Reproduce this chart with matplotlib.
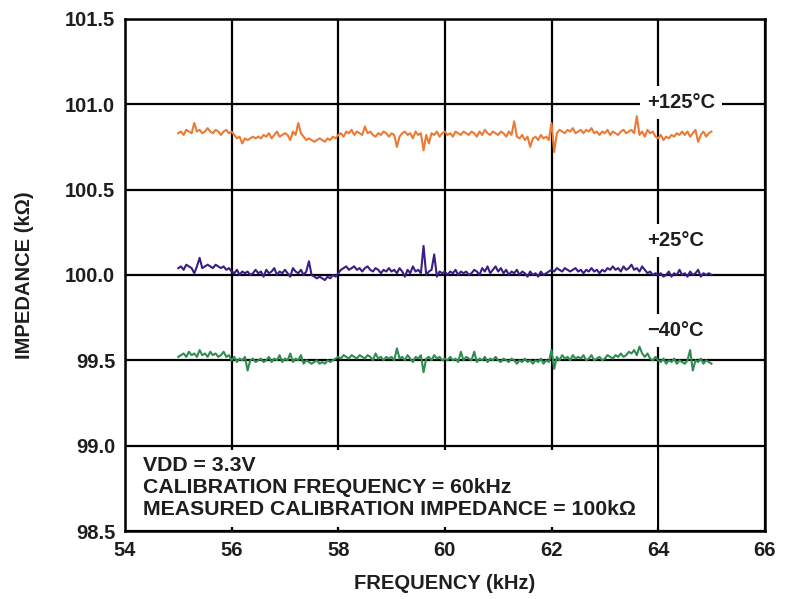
import numpy as np
import matplotlib
matplotlib.use("Agg")
import matplotlib.pyplot as plt
from matplotlib.patches import Rectangle

## -- data (impedance in kOhm, sweep 55..65 kHz, 0.05 kHz step)
freq = np.linspace(55, 65, 201)

z_125 = [
    100.83, 100.84, 100.82, 100.85, 100.84, 100.83, 100.89, 100.84, 100.85, 100.83,
    100.84, 100.86, 100.84, 100.83, 100.85, 100.84, 100.82, 100.84, 100.85, 100.83,
    100.84, 100.82, 100.80, 100.81, 100.77, 100.80, 100.79, 100.80, 100.81, 100.80,
    100.81, 100.80, 100.82, 100.81, 100.83, 100.80, 100.82, 100.84, 100.81, 100.82,
    100.83, 100.82, 100.79, 100.84, 100.82, 100.89, 100.83, 100.81, 100.79, 100.80,
    100.79, 100.78, 100.79, 100.80, 100.79, 100.78, 100.80, 100.79, 100.81, 100.80,
    100.82, 100.83, 100.81, 100.84, 100.83, 100.85, 100.82, 100.84, 100.83, 100.82,
    100.87, 100.83, 100.84, 100.82, 100.81, 100.83, 100.82, 100.84, 100.83, 100.81,
    100.83, 100.82, 100.75, 100.81, 100.83, 100.84, 100.82, 100.83, 100.80, 100.84,
    100.82, 100.83, 100.73, 100.82, 100.77, 100.83, 100.82, 100.84, 100.81, 100.83,
    100.84, 100.82, 100.83, 100.81, 100.84, 100.83, 100.82, 100.84, 100.83, 100.82,
    100.84, 100.83, 100.81, 100.84, 100.82, 100.85, 100.83, 100.82, 100.84, 100.83,
    100.82, 100.84, 100.83, 100.81, 100.84, 100.82, 100.90, 100.81, 100.80, 100.82,
    100.79, 100.81, 100.75, 100.80, 100.81, 100.79, 100.82, 100.80, 100.81, 100.79,
    100.89, 100.72, 100.83, 100.85, 100.84, 100.83, 100.85, 100.84, 100.86, 100.83,
    100.84, 100.85, 100.83, 100.85, 100.84, 100.86, 100.83, 100.84, 100.82, 100.84,
    100.83, 100.85, 100.82, 100.84, 100.83, 100.82, 100.84, 100.85, 100.83, 100.84,
    100.85, 100.83, 100.93, 100.82, 100.84, 100.81, 100.85, 100.83, 100.84, 100.81,
    100.80, 100.82, 100.79, 100.81, 100.80, 100.82, 100.81, 100.83, 100.82, 100.84,
    100.82, 100.84, 100.81, 100.83, 100.85, 100.78, 100.82, 100.84, 100.81, 100.83, 100.84,
]

z_25 = [
    100.04, 100.05, 100.03, 100.06, 100.05, 100.04, 100.01, 100.05, 100.10, 100.04,
    100.05, 100.06, 100.05, 100.04, 100.06, 100.05, 100.04, 100.05, 100.03, 100.04,
    100.02, 100.01, 100.03, 100.00, 100.02, 100.01, 100.02, 100.00, 100.01, 100.03,
    100.01, 100.02, 99.99, 100.03, 100.01, 100.02, 100.04, 100.00, 100.02, 100.01,
    100.03, 100.01, 99.99, 100.04, 100.02, 100.01, 100.03, 100.00, 100.02, 100.08,
    100.00, 99.99, 99.98, 99.99, 99.98, 99.97, 99.99, 99.98, 100.00, 99.99,
    100.01, 100.03, 100.04, 100.05, 100.03, 100.04, 100.05, 100.03, 100.04, 100.02,
    100.04, 100.05, 100.03, 100.02, 100.04, 100.03, 100.01, 100.03, 100.02, 100.04,
    100.02, 100.03, 100.01, 100.04, 100.02, 99.99, 100.03, 100.01, 100.05, 100.02,
    100.03, 100.01, 100.17, 100.00, 100.02, 100.03, 100.12, 99.99, 100.02, 100.01,
    100.02, 100.00, 100.02, 100.01, 100.03, 100.00, 100.02, 100.01, 100.02, 100.00,
    100.01, 100.03, 100.02, 100.00, 100.04, 100.02, 100.05, 100.01, 100.03, 100.05,
    100.02, 100.04, 100.01, 100.03, 100.00, 100.02, 100.01, 100.03, 100.00, 100.02,
    100.01, 99.99, 100.02, 100.00, 100.01, 99.99, 100.02, 100.00, 100.01, 100.02,
    100.03, 100.02, 100.04, 100.03, 100.02, 100.04, 100.03, 100.02, 100.03, 100.04,
    100.02, 100.03, 100.01, 100.03, 100.02, 100.04, 100.02, 100.03, 100.01, 100.03,
    100.02, 100.04, 100.03, 100.05, 100.03, 100.04, 100.02, 100.05, 100.03, 100.04,
    100.06, 100.03, 100.04, 100.02, 100.05, 100.03, 100.01, 100.02, 100.00, 100.01,
    100.00, 100.01, 99.99, 100.00, 100.02, 99.99, 100.01, 100.00, 100.03, 100.00,
    100.01, 99.99, 100.02, 100.00, 100.01, 100.03, 99.99, 100.01, 100.00, 100.01, 100.00,
]

z_m40 = [
    99.52, 99.53, 99.54, 99.52, 99.55, 99.53, 99.54, 99.52, 99.56, 99.53,
    99.54, 99.52, 99.55, 99.53, 99.54, 99.52, 99.53, 99.55, 99.52, 99.53,
    99.50, 99.52, 99.49, 99.51, 99.50, 99.52, 99.44, 99.50, 99.51, 99.49,
    99.50, 99.51, 99.49, 99.50, 99.52, 99.49, 99.51, 99.50, 99.53, 99.49,
    99.51, 99.50, 99.54, 99.49, 99.51, 99.50, 99.53, 99.48, 99.50, 99.49,
    99.48, 99.49, 99.50, 99.48, 99.49, 99.48, 99.50, 99.49, 99.50, 99.51,
    99.52, 99.51, 99.53, 99.52, 99.51, 99.53, 99.52, 99.51, 99.53, 99.52,
    99.51, 99.53, 99.52, 99.50, 99.54, 99.51, 99.52, 99.50, 99.52, 99.51,
    99.52, 99.50, 99.57, 99.51, 99.52, 99.50, 99.53, 99.51, 99.49, 99.52,
    99.51, 99.53, 99.43, 99.51, 99.52, 99.50, 99.53, 99.51, 99.52, 99.50,
    99.51, 99.50, 99.52, 99.50, 99.51, 99.49, 99.55, 99.50, 99.52, 99.51,
    99.50, 99.55, 99.49, 99.51, 99.50, 99.52, 99.49, 99.51, 99.50, 99.52,
    99.50, 99.49, 99.51, 99.50, 99.49, 99.51, 99.50, 99.48, 99.50, 99.49,
    99.51, 99.49, 99.50, 99.48, 99.50, 99.49, 99.51, 99.48, 99.50, 99.49,
    99.56, 99.45, 99.52, 99.50, 99.53, 99.51, 99.52, 99.50, 99.53, 99.51,
    99.52, 99.51, 99.53, 99.50, 99.51, 99.53, 99.50, 99.51, 99.52, 99.50,
    99.51, 99.53, 99.52, 99.51, 99.53, 99.52, 99.54, 99.52, 99.53, 99.55,
    99.54, 99.56, 99.53, 99.58, 99.54, 99.52, 99.54, 99.51, 99.50, 99.52,
    99.50, 99.49, 99.51, 99.48, 99.50, 99.49, 99.51, 99.48, 99.50, 99.49,
    99.48, 99.50, 99.56, 99.44, 99.50, 99.49, 99.51, 99.48, 99.50, 99.49, 99.48,
]

labels = ["+125°C", "+25°C", "\u221240°C"]
label_pos = [(64.43, 101.01), (64.33, 100.20), (64.33, 99.675)]
colors = ["#ea7a34", "#3b1d86", "#2f8c52"]

notes = "VDD = 3.3V\nCALIBRATION FREQUENCY = 60kHz\nMEASURED CALIBRATION IMPEDANCE = 100k\u03a9"

## -- plot
plt.rcParams['font.family'] = ['Liberation Sans', 'DejaVu Sans']
plt.rcParams['font.weight'] = 'bold'
plt.rcParams['axes.labelweight'] = 'bold'
txtc = "#1e1e1e"

fig = plt.figure(figsize=(7.86, 5.99), dpi=100)
ax = fig.add_axes([0.159, 0.1135, 0.814, 0.855])

for z, c in zip([z_125, z_25, z_m40], colors):
    ax.plot(freq, z, color=c, lw=1.5, zorder=2)

ax.set_xlim(54, 66)
ax.set_ylim(98.5, 101.5)
ax.set_xticks(np.arange(54, 67, 2))
ax.set_yticks(np.arange(98.5, 101.6, 0.5))
ax.set_yticklabels(["%.1f" % v for v in np.arange(98.5, 101.6, 0.5)])
ax.set_axisbelow(True)
ax.grid(True, color="black", lw=1.6)
ax.tick_params(length=0, labelsize=14.5, labelcolor=txtc, pad=7)
for s in ax.spines.values():
    s.set_linewidth(1.8)

ax.set_xlabel("FREQUENCY (kHz)", fontsize=14.5, color=txtc, labelpad=10)
ax.set_ylabel("IMPEDANCE (k\u03a9)", fontsize=14.5, color=txtc, labelpad=22)

# white box for the notes, leaves short grid stubs
ax.add_patch(Rectangle((54, 98.525), 9.97, 0.45, facecolor="white", edgecolor="none", zorder=1))
ax.text(54.33, 98.94, notes, fontsize=15.3, color=txtc, va="top", ha="left",
        linespacing=1.22, zorder=3)

for t, (x, y) in zip(labels, label_pos):
    ax.text(x, y, t, fontsize=14.5, color=txtc, ha="center", va="center", zorder=3,
            bbox=dict(facecolor="white", edgecolor="none", pad=5))

plt.savefig("out.png", dpi=100)
